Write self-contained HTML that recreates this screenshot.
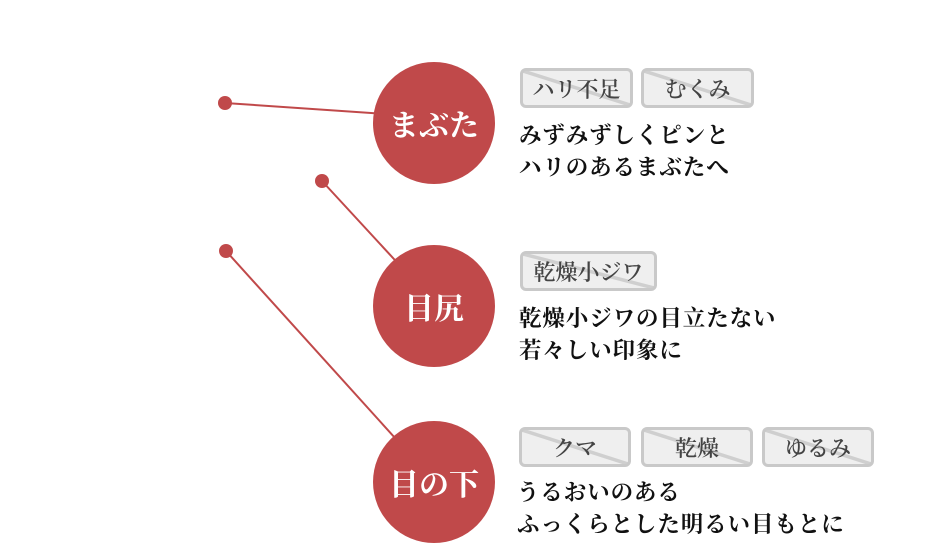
<!DOCTYPE html>
<html>
<head>
<meta charset="utf-8">
<style>
  html, body { margin:0; padding:0; background:#fff; }
  body { width:940px; height:546px; position:relative; overflow:hidden;
         font-family:"Liberation Serif","Noto Serif CJK SC",serif; }
  svg.lines { position:absolute; left:0; top:0; }
  .circle { position:absolute; width:122px; height:122px; border-radius:50%;
            background:#c0494a; color:#fff; font-size:30px; font-weight:bold;
            display:flex; align-items:center; justify-content:center; left:373px; }
  .tag { position:absolute; box-sizing:border-box; height:40px; border:3px solid #c9c9c9;
         border-radius:6px; color:#444; font-size:22px; font-weight:600;
         display:flex; align-items:center; justify-content:center;
         background:linear-gradient(to top right, #efefef calc(50% - 2px), #cfcfcf calc(50% - 1.5px), #cfcfcf calc(50% + 1.5px), #efefef calc(50% + 2px)); }
  .desc { position:absolute; left:519px; font-size:22.5px; font-weight:bold; color:#111;
          line-height:31.5px; letter-spacing:0.9px; white-space:nowrap; }
</style>
</head>
<body>
<svg class="lines" width="940" height="546" viewBox="0 0 940 546">
  <g stroke="#c0494a" stroke-width="2" fill="none">
    <line x1="225" y1="103" x2="400" y2="115"/>
    <line x1="322" y1="181" x2="405" y2="271"/>
    <line x1="226" y1="251" x2="405" y2="449"/>
  </g>
  <g fill="#c0494a">
    <circle cx="225" cy="103" r="7"/>
    <circle cx="322" cy="181" r="7"/>
    <circle cx="226" cy="251" r="7"/>
  </g>
</svg>

<div class="circle" style="top:62px;">まぶた</div>
<div class="circle" style="top:245px;">目尻</div>
<div class="circle" style="top:421px;">目の下</div>

<div class="tag" style="left:520px; top:68px; width:113px;">ハリ不足</div>
<div class="tag" style="left:641px; top:68px; width:113px;">むくみ</div>
<div class="desc" style="top:120px;">みずみずしくピンと<br>ハリのあるまぶたへ</div>

<div class="tag" style="left:520px; top:251px; width:137px; height:40px;">乾燥小ジワ</div>
<div class="desc" style="top:303px;">乾燥小ジワの目立たない<br>若々しい印象に</div>

<div class="tag" style="left:519px; top:427px; width:112px;">クマ</div>
<div class="tag" style="left:641px; top:427px; width:112px;">乾燥</div>
<div class="tag" style="left:762px; top:427px; width:112px;">ゆるみ</div>
<div class="desc" style="top:477px; left:517px;">うるおいのある<br>ふっくらとした明るい目もとに</div>
</body>
</html>
